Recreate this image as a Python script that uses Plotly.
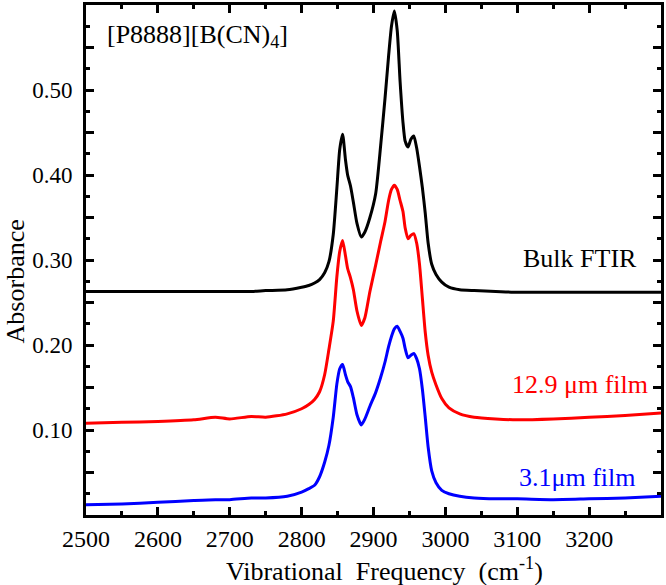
import plotly.graph_objects as go

# Wavenumber grid (cm^-1)
freq = [2500, 2550, 2600, 2650, 2680, 2700, 2730, 2750, 2780, 2800, 2810, 2818, 2825,
        2832, 2838, 2844, 2849, 2853, 2857, 2861, 2864, 2868, 2872, 2877, 2883, 2888,
        2895, 2903, 2910, 2916, 2921, 2925, 2929, 2933, 2937, 2941, 2944, 2948, 2952,
        2956, 2960, 2964, 2968, 2972, 2976, 2981, 2987, 2995, 3005, 3020, 3040, 3070,
        3100, 3150, 3200, 3250, 3300]

bulk_ftir = [0.263, 0.263, 0.263, 0.263, 0.263, 0.263, 0.263, 0.264, 0.265, 0.268, 0.270, 0.273, 0.277,
             0.285, 0.298, 0.330, 0.384, 0.430, 0.448, 0.418, 0.400, 0.387, 0.368, 0.343, 0.327, 0.333,
             0.350, 0.378, 0.435, 0.490, 0.540, 0.575, 0.593, 0.570, 0.510, 0.462, 0.440, 0.433, 0.442,
             0.446, 0.432, 0.410, 0.385, 0.355, 0.320, 0.295, 0.283, 0.274, 0.268, 0.265, 0.264, 0.263,
             0.262, 0.262, 0.262, 0.262, 0.262]

film_12_9 = [0.108, 0.109, 0.110, 0.112, 0.115, 0.113, 0.116, 0.115, 0.119, 0.125, 0.130, 0.136, 0.145,
             0.165, 0.195, 0.228, 0.280, 0.310, 0.323, 0.305, 0.290, 0.279, 0.265, 0.240, 0.223, 0.232,
             0.263, 0.294, 0.322, 0.345, 0.370, 0.383, 0.388, 0.383, 0.370, 0.357, 0.338, 0.325, 0.329,
             0.331, 0.320, 0.295, 0.255, 0.215, 0.188, 0.168, 0.153, 0.137, 0.126, 0.119, 0.115, 0.113,
             0.112, 0.113, 0.115, 0.117, 0.120]

film_3_1 = [0.012, 0.013, 0.015, 0.017, 0.018, 0.018, 0.020, 0.020, 0.022, 0.027, 0.031, 0.035, 0.045,
            0.062, 0.082, 0.115, 0.154, 0.172, 0.177, 0.165, 0.157, 0.151, 0.138, 0.118, 0.106, 0.113,
            0.128, 0.144, 0.162, 0.180, 0.198, 0.210, 0.219, 0.222, 0.216, 0.208, 0.196, 0.185, 0.188,
            0.190, 0.184, 0.172, 0.148, 0.115, 0.080, 0.052, 0.038, 0.029, 0.025, 0.022, 0.020, 0.019,
            0.019, 0.018, 0.019, 0.020, 0.022]

x_tick_vals = [2500, 2600, 2700, 2800, 2900, 3000, 3100, 3200]
x_tick_text = ["2500", "2600", "2700", "2800", "2900", "3000", "3100", "3200"]
y_tick_vals = [0.05, 0.10, 0.15, 0.20, 0.25, 0.30, 0.35, 0.40, 0.45, 0.50, 0.55]
y_tick_text = [" ", "0.10", " ", "0.20", " ", "0.30", " ", "0.40", " ", "0.50", " "]

FONT = "Liberation Serif"

fig = go.Figure()
for vals, col in [(bulk_ftir, "#000000"), (film_12_9, "#ff0000"), (film_3_1, "#0000ff")]:
    fig.add_trace(go.Scatter(x=freq, y=vals, mode="lines",
                             line=dict(color=col, width=3, shape="spline", smoothing=0.6),
                             showlegend=False, hoverinfo="skip"))

axis_common = dict(showline=True, linewidth=3, linecolor="black", mirror="allticks",
                   ticks="inside", ticklen=8, tickwidth=2.5, tickcolor="black",
                   showgrid=False, zeroline=False)

fig.update_xaxes(range=[2500, 3300], tickvals=x_tick_vals, ticktext=x_tick_text,
                 tickfont=dict(family=FONT, size=24, color="black"),
                 minor=dict(ticks="inside", ticklen=4, tickwidth=2.5, tickcolor="black", dtick=50, tick0=2500),
                 ticklabelstandoff=0, **axis_common)
fig.update_yaxes(range=[0, 0.6], tickvals=y_tick_vals, ticktext=y_tick_text,
                 tickfont=dict(family=FONT, size=23, color="black"),
                 minor=dict(ticks="inside", ticklen=4, tickwidth=2.5, tickcolor="black", dtick=0.025, tick0=0),
                 ticklabelstandoff=6, **axis_common)

annots = [
    dict(text="[P8888][B(CN)<sub>4</sub>]", x=2527, y=0.563, xanchor="left", yanchor="middle",
         font=dict(size=26, color="black")),
    dict(text="Bulk FTIR", x=3270, y=0.302, xanchor="right", yanchor="middle",
         font=dict(size=26, color="black")),
    dict(text="12.9 μm film", x=3284, y=0.154, xanchor="right", yanchor="middle",
         font=dict(size=26, color="#ff0000")),
    dict(text="3.1μm film", x=3268, y=0.044, xanchor="right", yanchor="middle",
         font=dict(size=26, color="#0000ff")),
]
for a in annots:
    a["font"]["family"] = FONT
    fig.add_annotation(xref="x", yref="y", showarrow=False, **a)

fig.add_annotation(text="Vibrational  Frequency  (cm<sup>-1</sup>)", xref="paper", yref="paper",
                   x=0.519, y=-0.107, xanchor="center", yanchor="middle", showarrow=False,
                   font=dict(family=FONT, size=26, color="black"))
fig.add_annotation(text="Absorbance", xref="paper", yref="paper", textangle=-90,
                   x=-0.1235, y=0.458, xanchor="center", yanchor="middle", showarrow=False,
                   font=dict(family=FONT, size=26, color="black"))

fig.update_layout(width=666, height=585, margin=dict(l=86, r=2, t=2, b=70),
                  plot_bgcolor="white", paper_bgcolor="white")

fig.write_html("out.html", config={"displayModeBar": False},
               post_script="document.body.style.margin='0';document.body.style.padding='0';")
